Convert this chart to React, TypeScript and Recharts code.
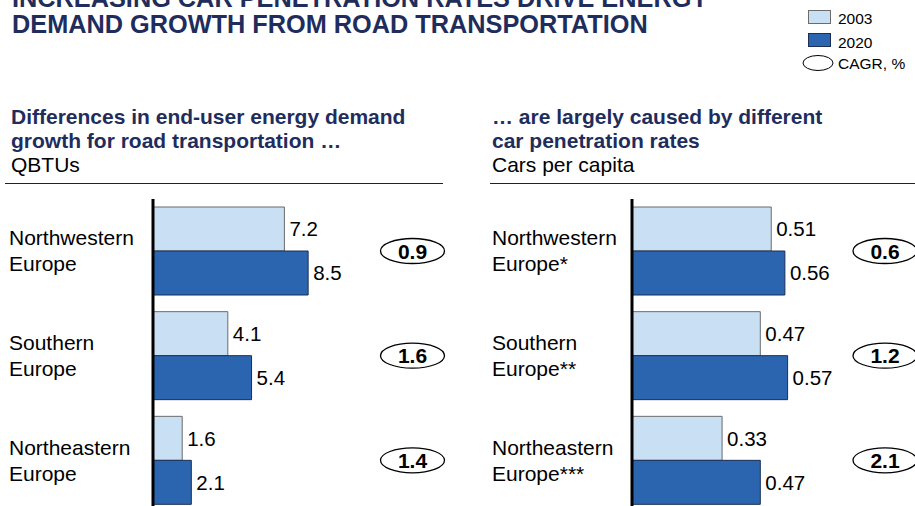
import React from 'react'
import { BarChart, Bar, XAxis, YAxis, LabelList } from 'recharts'

const categories = ['Northwestern Europe', 'Southern Europe', 'Northeastern Europe']
const carCategories = ['Northwestern Europe*', 'Southern Europe**', 'Northeastern Europe***']

const energy2003 = [7.2, 4.1, 1.6]
const energy2020 = [8.5, 5.4, 2.1]
const energyCagr = ['0.9', '1.6', '1.4']

const cars2003 = [0.51, 0.47, 0.33]
const cars2020 = [0.56, 0.57, 0.47]
const carsCagr = ['0.6', '1.2', '2.1']

const FONT = 'Arial, "Liberation Sans", Helvetica, sans-serif'
const NAVY = '#1f2d5c'
const LIGHT = '#c9dff3'
const DARK = '#2b65b0'

const energyData = categories.map((name, i) => ({
  name,
  y2003: energy2003[i],
  y2020: energy2020[i],
  cagr: energyCagr[i],
}))

const carsData = carCategories.map((name, i) => ({
  name,
  y2003: cars2003[i],
  y2020: cars2020[i],
  cagr: carsCagr[i],
}))

// two-line category label, left aligned
function CategoryTick(props: any) {
  const { y, payload, labelX } = props
  const text: string = payload.value
  const cut = text.indexOf(' ')
  const lines = [text.slice(0, cut), text.slice(cut + 1)]
  return (
    <g>
      <text x={labelX} y={y - 13 + 7} textAnchor="start" fontSize={21} fontFamily={FONT} fill="#000">
        {lines[0]}
      </text>
      <text x={labelX} y={y + 13 + 7} textAnchor="start" fontSize={21} fontFamily={FONT} fill="#000">
        {lines[1]}
      </text>
    </g>
  )
}

function cagrBubble(cx: number) {
  return (props: any) => {
    const vb = props.viewBox || props
    const cy = vb.y
    return (
      <g>
        <ellipse cx={cx} cy={cy} rx={32} ry={12.5} fill="#fff" stroke="#000" strokeWidth={1.3} />
        <text
          x={cx}
          y={cy + 7.5}
          textAnchor="middle"
          fontSize={21}
          fontWeight={700}
          fontFamily={FONT}
          fill="#000"
        >
          {props.value}
        </text>
      </g>
    )
  }
}

function Panel({
  data,
  domain,
  axisWidth,
  rightPad,
  labelX,
  bubbleX,
  fmt,
}: {
  data: any[]
  domain: [number, number]
  axisWidth: number
  rightPad: number
  labelX: number
  bubbleX: number
  fmt: (v: number) => string
}) {
  return (
    <BarChart
      width={460}
      height={314}
      data={data}
      layout="vertical"
      margin={{ top: 0, right: rightPad, bottom: 0, left: 0 }}
      barGap={0}
    >
      <XAxis type="number" domain={domain} hide />
      <YAxis
        type="category"
        dataKey="name"
        width={axisWidth}
        axisLine={{ stroke: '#000', strokeWidth: 3 }}
        tickLine={false}
        tick={<CategoryTick labelX={labelX} />}
      />
      <Bar dataKey="y2003" fill={LIGHT} stroke="#6b6b6b" strokeWidth={1} barSize={44} isAnimationActive={false}>
        <LabelList
          dataKey="y2003"
          position="right"
          offset={5}
          formatter={(v: any) => fmt(v)}
          style={{ fontSize: 20.5, fontFamily: FONT, fill: '#000' }}
        />
      </Bar>
      <Bar dataKey="y2020" fill={DARK} stroke="#1b2f55" strokeWidth={1} barSize={44} isAnimationActive={false}>
        <LabelList
          dataKey="y2020"
          position="right"
          offset={5}
          formatter={(v: any) => fmt(v)}
          style={{ fontSize: 20.5, fontFamily: FONT, fill: '#000' }}
        />
        <LabelList dataKey="cagr" content={cagrBubble(bubbleX)} />
      </Bar>
    </BarChart>
  )
}

export default function App() {
  const subStyle: React.CSSProperties = {
    position: 'absolute',
    top: 105,
    fontSize: 21,
    lineHeight: '24px',
    fontFamily: FONT,
    whiteSpace: 'nowrap',
  }
  return (
    <div
      style={{
        position: 'absolute',
        left: 0,
        top: 0,
        width: 915,
        height: 506,
        overflow: 'hidden',
        background: '#fff',
        fontFamily: FONT,
      }}
    >
      {/* title, first line cut off by the page edge as in the source */}
      <div
        style={{
          position: 'absolute',
          left: 12,
          top: -15,
          fontSize: 25.3,
          lineHeight: '26px',
          fontWeight: 700,
          color: NAVY,
          whiteSpace: 'nowrap',
        }}
      >
        INCREASING CAR PENETRATION RATES DRIVE ENERGY
        <br />
        DEMAND GROWTH FROM ROAD TRANSPORTATION
      </div>

      {/* legend */}
      <svg style={{ position: 'absolute', left: 0, top: 0 }} width={915} height={80}>
        <rect x={808.5} y={10.5} width={22} height={13} fill={LIGHT} stroke="#6b6b6b" />
        <text x={838} y={24} fontSize={15.5} fontFamily={FONT} fill="#000">2003</text>
        <rect x={808.5} y={33.5} width={22} height={13} fill={DARK} stroke="#1b2f55" />
        <text x={838} y={48} fontSize={15.5} fontFamily={FONT} fill="#000">2020</text>
        <ellipse cx={818} cy={63} rx={15} ry={7.5} fill="#fff" stroke="#000" strokeWidth={1} />
        <text x={838} y={68.5} fontSize={15.5} fontFamily={FONT} fill="#000">CAGR, %</text>
      </svg>

      {/* panel headings */}
      <div style={{ ...subStyle, left: 11 }}>
        <div style={{ fontWeight: 700, color: NAVY }}>Differences in end-user energy demand</div>
        <div style={{ fontWeight: 700, color: NAVY }}>growth for road transportation …</div>
        <div style={{ color: '#000' }}>QBTUs</div>
      </div>
      <div style={{ ...subStyle, left: 492 }}>
        <div style={{ fontWeight: 700, color: NAVY }}>… are largely caused by different</div>
        <div style={{ fontWeight: 700, color: NAVY }}>car penetration rates</div>
        <div style={{ color: '#000' }}>Cars per capita</div>
      </div>
      <div style={{ position: 'absolute', left: 5, top: 183, width: 438, borderTop: '1.5px solid #222' }} />
      <div style={{ position: 'absolute', left: 490, top: 183, width: 425, borderTop: '1.5px solid #222' }} />

      <div style={{ position: 'absolute', left: 0, top: 199 }}>
        <Panel
          data={energyData}
          domain={[0, 16]}
          axisWidth={153}
          rightPad={15}
          labelX={9}
          bubbleX={412.5}
          fmt={(v) => v.toFixed(1)}
        />
      </div>
      <div style={{ position: 'absolute', left: 478, top: 199 }}>
        <Panel
          data={carsData}
          domain={[0, 1]}
          axisWidth={154}
          rightPad={33}
          labelX={14}
          bubbleX={407}
          fmt={(v) => v.toFixed(2)}
        />
      </div>
    </div>
  )
}
